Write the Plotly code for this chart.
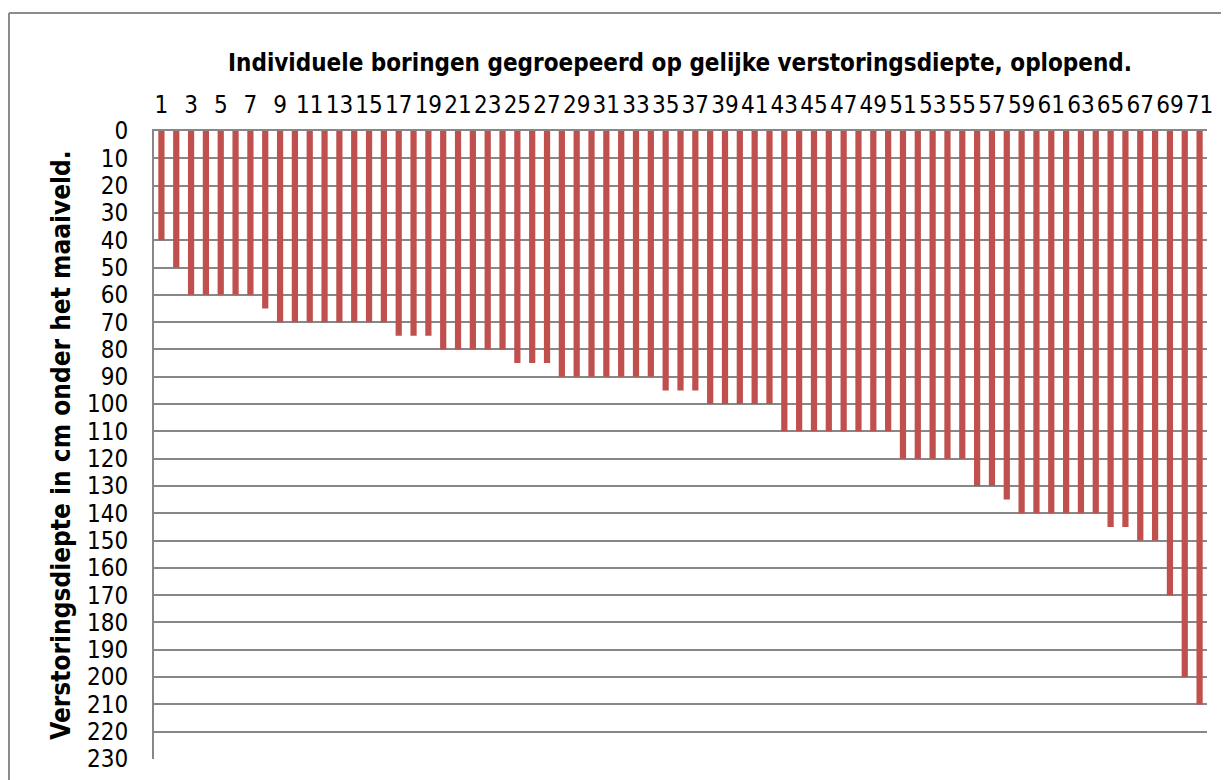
import plotly.graph_objects as go

boring_nr = list(range(1, 72))
diepte_cm = [40, 50, 60, 60, 60, 60, 60, 65,
             70, 70, 70, 70, 70, 70, 70, 70,
             75, 75, 75,
             80, 80, 80, 80, 80,
             85, 85, 85,
             90, 90, 90, 90, 90, 90, 90,
             95, 95, 95,
             100, 100, 100, 100, 100,
             110, 110, 110, 110, 110, 110, 110, 110,
             120, 120, 120, 120, 120,
             130, 130, 135,
             140, 140, 140, 140, 140, 140,
             145, 145, 150, 150,
             170, 200, 210]
x_ticks = list(range(1, 72, 2))
y_ticks = list(range(0, 231, 10))

title_text = "Individuele boringen gegroepeerd op gelijke verstoringsdiepte, oplopend."
y_title = "Verstoringsdiepte in cm onder het maaiveld."

FONT = "Liberation Sans Narrow, Arial Narrow, DejaVu Sans Condensed, sans-serif"
GRID = "#878787"

fig = go.Figure(go.Bar(x=boring_nr, y=diepte_cm, marker=dict(color="#C0504D", line=dict(width=0))))

# page has an 8px body margin; figure coordinates = page coordinates - 8
OFF = 8
W, H = 1229 - OFF, 780 - OFF
L = 154 - OFF
T = 131 - OFF
R = W - (1207 - OFF)
B = H - (759 - OFF)
pw, ph = W - L - R, H - T - B

def px(x):
    return (x - OFF - L) / pw

def py(y):
    return (H - B - (y - OFF)) / ph

fig.update_layout(
    width=W, height=H,
    margin=dict(l=L, r=R, t=T, b=B, autoexpand=False),
    paper_bgcolor="white", plot_bgcolor="white",
    bargap=0.58,
    showlegend=False,
    font=dict(family=FONT, size=24, color="#000000"),
    title=dict(text="<b>" + title_text + "</b>", x=px(680), xref="paper", xanchor="center",
               y=1 - (63 - OFF) / H, yanchor="middle", font=dict(family=FONT, size=24, color="#000000")),
    xaxis=dict(side="top", range=[0.5, 71.5], tickvals=x_ticks, ticktext=[str(v) for v in x_ticks],
               tickangle=0, showgrid=False, showline=True, linecolor=GRID, linewidth=2,
               ticks="", ticklabelstandoff=6, tickfont=dict(family=FONT, size=24)),
    yaxis=dict(autorange=False, range=[230, 0], tickvals=y_ticks, showgrid=True, gridcolor=GRID,
               gridwidth=1.5, showline=True, linecolor=GRID, linewidth=2, zeroline=False,
               ticks="", ticklabelstandoff=19, tickfont=dict(family=FONT, size=24),
               title=dict(text="<b>" + y_title + "</b>", standoff=9,
                          font=dict(family=FONT, size=26, color="#000000"))),
    shapes=[
        dict(type="line", xref="paper", yref="paper", x0=px(9), x1=px(1240), y0=py(13), y1=py(13),
             line=dict(color="#8c8c8c", width=2)),
        dict(type="line", xref="paper", yref="paper", x0=px(9), x1=px(9), y0=py(13), y1=py(800),
             line=dict(color="#8c8c8c", width=2)),
    ],
)

fig.write_html("out.html")
